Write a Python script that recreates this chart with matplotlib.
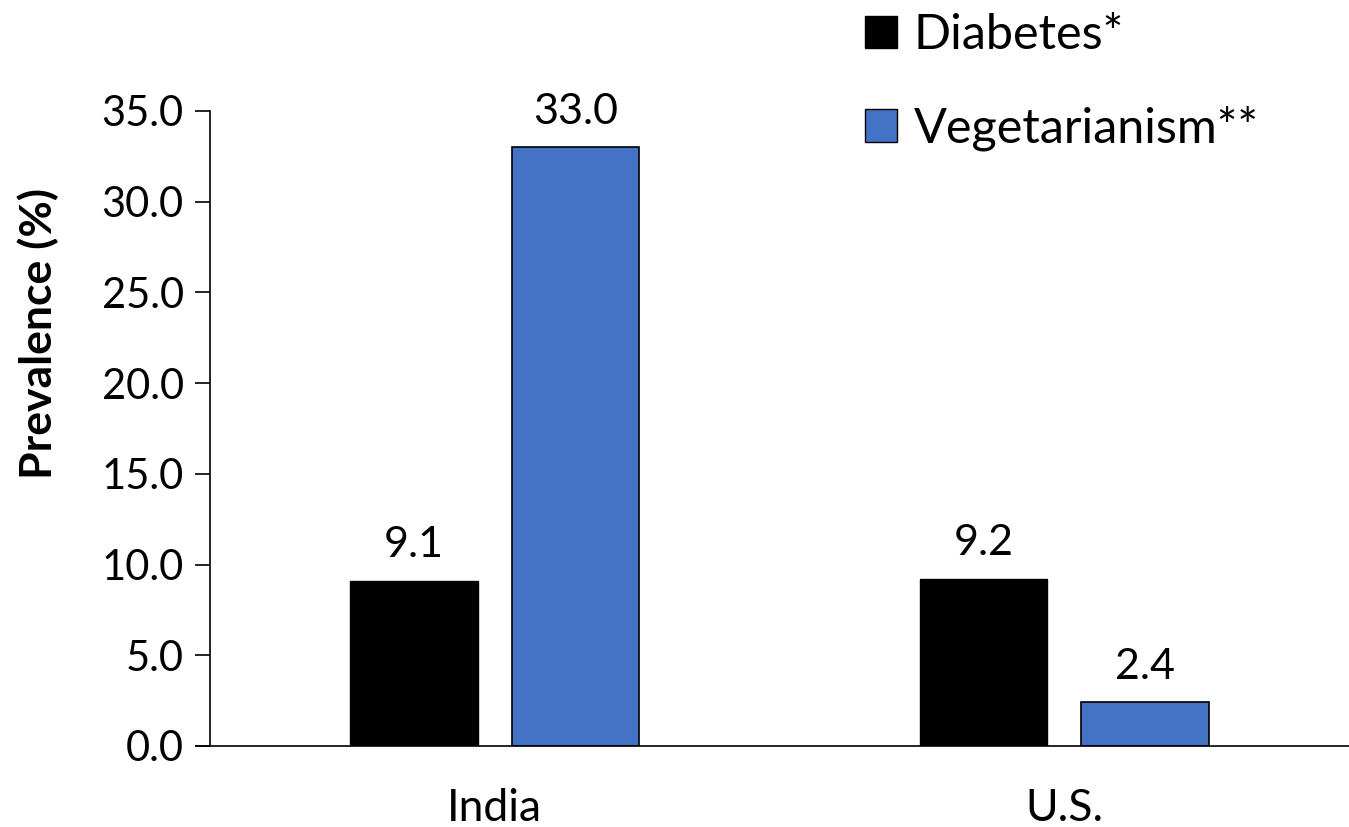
import numpy as np
import matplotlib.pyplot as plt
from matplotlib.patches import Patch

plt.rcParams['font.family'] = ['Lato', 'DejaVu Sans']

countries = ['India', 'U.S.']
diabetes = [9.1, 9.2]
vegetarianism = [33.0, 2.4]
series_labels = ['Diabetes*', 'Vegetarianism**']

fig = plt.figure(figsize=(13.49, 8.27), dpi=100)
ax = fig.add_axes([0.1557, 0.098, 0.8443, 0.7679])

x = np.arange(len(countries))
w = 0.224
off = 0.142
b1 = ax.bar(x - off, diabetes, width=w, color='black', edgecolor='black', linewidth=1)
b2 = ax.bar(x + off, vegetarianism, width=w, color='#4472C4', edgecolor='black', linewidth=1.2)
for bars in (b1, b2):
    ax.bar_label(bars, labels=['%.1f' % v for v in bars.datavalues], padding=12, fontsize=31)

ax.set_xlim(-0.5, 1.5)
ax.set_ylim(0, 35)
ax.set_yticks(np.arange(0, 35.1, 5))
ax.set_yticklabels(['%.1f' % v for v in np.arange(0, 35.1, 5)])
ax.set_xticks(x)
ax.set_xticklabels(countries)
ax.tick_params(axis='y', labelsize=30, length=11, width=1.2, direction='out', pad=8)
ax.tick_params(axis='x', labelsize=32, length=0, pad=30)
for s in ['top', 'right']:
    ax.spines[s].set_visible(False)
ax.spines['left'].set_linewidth(1.2)
ax.spines['bottom'].set_linewidth(1.2)
ax.spines['bottom'].set_bounds(-0.525, 1.5)
ax.set_ylabel('Prevalence (%)', fontsize=32, fontweight='bold')
ax.yaxis.set_label_coords(-0.133, 0.649)

handles = [Patch(facecolor='black', edgecolor='black'),
           Patch(facecolor='#4472C4', edgecolor='black')]
fig.legend(handles, series_labels, loc='upper left', bbox_to_anchor=(0.609, 1.037),
           frameon=False, fontsize=35, handlelength=0.65, handleheight=0.65,
           handletextpad=0.35, labelspacing=1.0)

fig.savefig('out.png', dpi=100)
